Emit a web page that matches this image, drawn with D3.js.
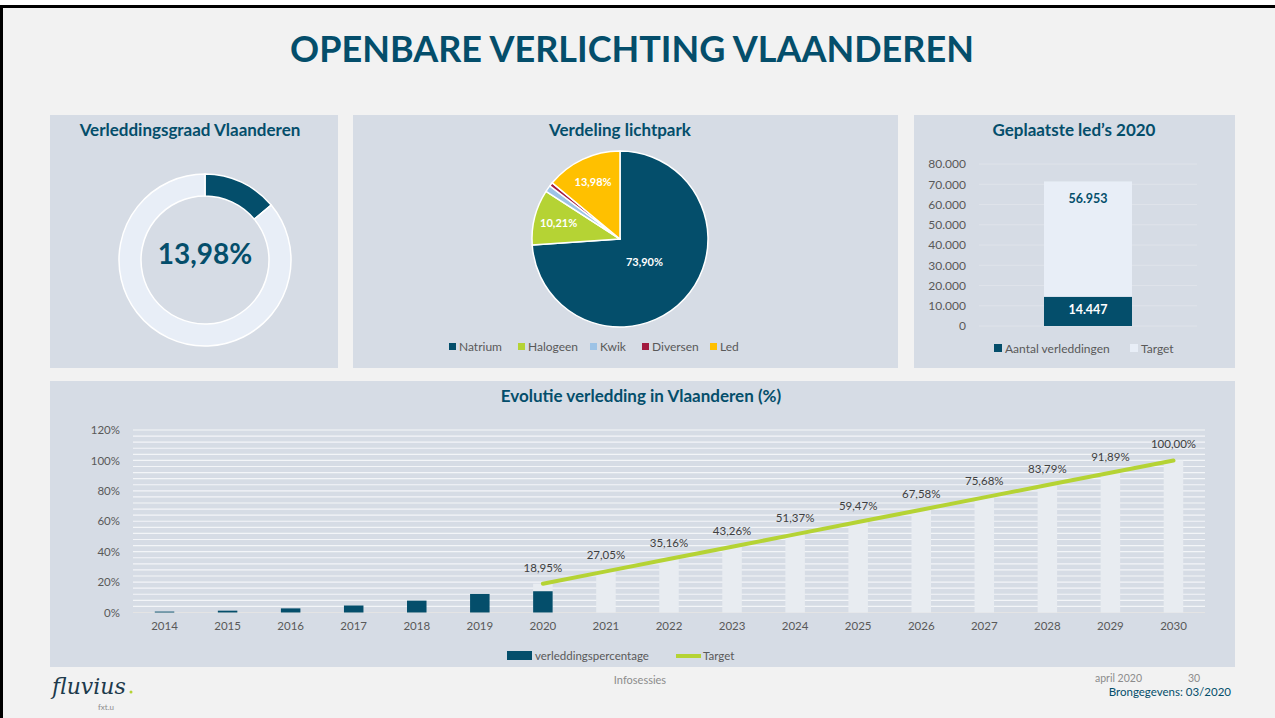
<!DOCTYPE html>
<html>
<head>
<meta charset="utf-8">
<script src="https://cdn.jsdelivr.net/npm/d3@7/dist/d3.min.js"></script>
<style>
  html, body { margin: 0; padding: 0; background: #ffffff; }
  svg { display: block; font-family: Lato, "Open Sans", sans-serif; }
</style>
</head>
<body>
<svg id="chart" width="1275" height="718"></svg>
<script>
// ---------- DATA ----------
const donutLabels = ["Verleddingsgraad", "Rest"];
const donutValues = [13.98, 86.02];

const pieCategories = ["Natrium", "Halogeen", "Kwik", "Diversen", "Led"];
const pieValues = [73.90, 10.21, 1.20, 0.71, 13.98];
const pieShownLabels = ["73,90%", "10,21%", "", "", "13,98%"];

const ledCategories = ["Aantal verleddingen", "Target"];
const ledValues = [14447, 56953];
const ledTicks = [0, 10000, 20000, 30000, 40000, 50000, 60000, 70000, 80000];
const ledTickLabels = ["0", "10.000", "20.000", "30.000", "40.000", "50.000", "60.000", "70.000", "80.000"];

const years = ["2014","2015","2016","2017","2018","2019","2020","2021","2022","2023","2024","2025","2026","2027","2028","2029","2030"];
const actualValues = [0.6, 1.2, 2.7, 4.6, 7.8, 12.2, 13.98, null, null, null, null, null, null, null, null, null, null];
const targetValues = [null, null, null, null, null, null, 18.95, 27.05, 35.16, 43.26, 51.37, 59.47, 67.58, 75.68, 83.79, 91.89, 100.00];
const targetLabels = ["", "", "", "", "", "", "18,95%", "27,05%", "35,16%", "43,26%", "51,37%", "59,47%", "67,58%", "75,68%", "83,79%", "91,89%", "100,00%"];
const pctTicks = [0, 20, 40, 60, 80, 100, 120];

// ---------- STYLE ----------
const TEAL = "#044e6b";
const PANEL = "#d6dce5";
const GREY = "#595959";
const pieColors = ["#044e6b", "#b5d334", "#9dc3e6", "#a31a3f", "#ffc000"];
const LIGHT = "#e8eef7";

const svg = d3.select("#chart");

// page background & frame
svg.append("rect").attr("x", 0).attr("y", 0).attr("width", 1275).attr("height", 718).attr("fill", "#ffffff");
svg.append("rect").attr("x", 0).attr("y", 6).attr("width", 1275).attr("height", 712).attr("fill", "#f2f2f2");
svg.append("line").attr("x1", 0).attr("x2", 1275).attr("y1", 6.5).attr("y2", 6.5).attr("stroke", "#000").attr("stroke-width", 3);
svg.append("line").attr("x1", 1.5).attr("x2", 1.5).attr("y1", 5).attr("y2", 718).attr("stroke", "#000").attr("stroke-width", 3);

// main title
svg.append("text").attr("x", 632).attr("y", 62).attr("text-anchor", "middle")
  .attr("font-size", 36).attr("font-weight", 700).attr("fill", TEAL)
  .text("OPENBARE VERLICHTING VLAANDEREN");

// panels
const panels = [
  {x: 50, y: 115, w: 288, h: 253, title: "Verleddingsgraad Vlaanderen", tx: 190},
  {x: 353, y: 115, w: 545, h: 253, title: "Verdeling lichtpark", tx: 620},
  {x: 914, y: 115, w: 321, h: 253, title: "Geplaatste led\u2019s 2020", tx: 1074},
  {x: 50, y: 381, w: 1185, h: 286, title: "Evolutie verledding in Vlaanderen (%)", tx: 641}
];
const panelG = svg.append("g");
panels.forEach(p => {
  panelG.append("rect").attr("x", p.x).attr("y", p.y).attr("width", p.w).attr("height", p.h).attr("fill", PANEL);
  panelG.append("text").attr("x", p.tx).attr("y", p.y + 20.5).attr("text-anchor", "middle")
    .attr("font-size", 17).attr("font-weight", 700).attr("fill", TEAL).text(p.title);
});

// ---------- DONUT ----------
{
  const g = svg.append("g").attr("transform", "translate(205,260)");
  const pie = d3.pie().sort(null)(donutValues);
  const arc = d3.arc().innerRadius(64).outerRadius(86);
  g.selectAll("path").data(pie).join("path")
    .attr("d", arc)
    .attr("fill", (d, i) => i === 0 ? TEAL : LIGHT)
    .attr("stroke", "#ffffff").attr("stroke-width", 1.5);
  g.append("text").attr("x", 0).attr("y", 4).attr("text-anchor", "middle")
    .attr("font-size", 28).attr("font-weight", 700).attr("fill", TEAL)
    .text(d3.format(".2f")(donutValues[0]).replace(".", ",") + "%");
}

// ---------- PIE ----------
{
  const cx = 620, cy = 239, r = 88;
  const g = svg.append("g").attr("transform", `translate(${cx},${cy})`);
  const pie = d3.pie().sort(null)(pieValues);
  const arc = d3.arc().innerRadius(0).outerRadius(r);
  g.selectAll("path").data(pie).join("path")
    .attr("d", arc)
    .attr("fill", (d, i) => pieColors[i])
    .attr("stroke", "#ffffff").attr("stroke-width", 1.5).attr("stroke-linejoin", "round");
  g.selectAll("text.lbl").data(pie).join("text").attr("class", "lbl")
    .attr("transform", (d) => {
      const frac = (d.endAngle - d.startAngle) > Math.PI ? 0.38 : 0.72;
      const a = d3.arc().innerRadius(r * frac).outerRadius(r * frac);
      const c = a.centroid(d);
      return `translate(${c[0]},${c[1] + 4})`;
    })
    .attr("text-anchor", "middle").attr("font-size", 11).attr("font-weight", 700).attr("fill", "#ffffff")
    .text((d, i) => pieShownLabels[i]);

  // legend
  const legX = [449, 518, 590, 642, 710];
  const lg = svg.append("g");
  pieCategories.forEach((c, i) => {
    lg.append("rect").attr("x", legX[i]).attr("y", 343).attr("width", 7).attr("height", 7).attr("fill", pieColors[i]);
    lg.append("text").attr("x", legX[i] + 10).attr("y", 351).attr("font-size", 12).attr("fill", GREY).text(c);
  });
}

// ---------- LED STACKED BAR ----------
{
  const y = d3.scaleLinear().domain([0, 80000]).range([326, 164]);
  const g = svg.append("g");
  // gridlines
  g.selectAll("line.grid").data(ledTicks).join("line").attr("class", "grid")
    .attr("x1", 979).attr("x2", 1197).attr("y1", d => y(d)).attr("y2", d => y(d))
    .attr("stroke", "#dfe3ea").attr("stroke-width", 1);
  // axis labels
  const ax = d3.axisLeft(y).tickValues(ledTicks).tickFormat((d, i) => ledTickLabels[i]).tickSize(0).tickPadding(0);
  const axg = g.append("g").attr("transform", "translate(966,0)").call(ax);
  axg.select(".domain").remove();
  axg.selectAll("text").attr("font-size", 12).attr("fill", GREY).attr("font-family", "Lato, 'Open Sans', sans-serif");
  // stacked bars
  const stack = d3.stack().keys([0, 1])([ledValues]);
  const barX = 1044, barW = 88;
  const colors = [TEAL, LIGHT];
  stack.forEach((s, i) => {
    const d = s[0];
    g.append("rect").attr("x", barX).attr("width", barW)
      .attr("y", y(d[1])).attr("height", y(d[0]) - y(d[1])).attr("fill", colors[i]);
  });
  g.append("text").attr("x", barX + barW / 2).attr("y", y(stack[0][0][1]) + 17).attr("text-anchor", "middle")
    .attr("font-size", 12.5).attr("font-weight", 700).attr("fill", "#ffffff").text(d3.format(",")(ledValues[0]).replace(/,/g, "."));
  g.append("text").attr("x", barX + barW / 2).attr("y", 203).attr("text-anchor", "middle")
    .attr("font-size", 12.5).attr("font-weight", 700).attr("fill", TEAL).text(d3.format(",")(ledValues[1]).replace(/,/g, "."));
  // legend
  const legX = [994, 1130];
  ledCategories.forEach((c, i) => {
    g.append("rect").attr("x", legX[i]).attr("y", 344).attr("width", 8).attr("height", 8).attr("fill", colors[i]);
    g.append("text").attr("x", legX[i] + 11).attr("y", 353).attr("font-size", 12).attr("fill", GREY).text(c);
  });
}

// ---------- EVOLUTION ----------
{
  const x = d3.scaleBand().domain(years).range([133, 1205]);
  const y = d3.scaleLinear().domain([0, 120]).range([612.5, 430]);
  const g = svg.append("g");
  const minor = d3.range(4, 121, 4);
  g.selectAll("line.grid").data(minor).join("line").attr("class", "grid")
    .attr("x1", 133).attr("x2", 1205).attr("y1", d => y(d)).attr("y2", d => y(d))
    .attr("stroke", "#f3f5f8").attr("stroke-width", 1.2);
  g.append("line").attr("x1", 133).attr("x2", 1205).attr("y1", y(0)).attr("y2", y(0))
    .attr("stroke", "#e4e4e4").attr("stroke-width", 1.2);

  const ax = d3.axisLeft(y).tickValues(pctTicks).tickFormat(d => d + "%").tickSize(0).tickPadding(0);
  const axg = g.append("g").attr("transform", "translate(120,0)").call(ax);
  axg.select(".domain").remove();
  axg.selectAll("text").attr("font-size", 11.5).attr("fill", GREY).attr("font-family", "Lato, 'Open Sans', sans-serif");

  const bx = d3.axisBottom(x).tickSize(0).tickPadding(0);
  const bxg = g.append("g").attr("transform", "translate(0,622)").call(bx);
  bxg.select(".domain").remove();
  bxg.selectAll("text").attr("font-size", 11.5).attr("fill", GREY).attr("font-family", "Lato, 'Open Sans', sans-serif");

  const bw = 19.5;
  const tData = years.map((yr, i) => ({yr, v: targetValues[i], l: targetLabels[i]})).filter(d => d.v !== null);
  const aData = years.map((yr, i) => ({yr, v: actualValues[i]})).filter(d => d.v !== null);

  g.selectAll("rect.tgt").data(tData).join("rect").attr("class", "tgt")
    .attr("x", d => x(d.yr) + x.bandwidth() / 2 - bw / 2).attr("width", bw)
    .attr("y", d => y(d.v)).attr("height", d => y(0) - y(d.v)).attr("fill", "#e8ecf1");
  g.selectAll("rect.act").data(aData).join("rect").attr("class", "act")
    .attr("x", d => x(d.yr) + x.bandwidth() / 2 - bw / 2).attr("width", bw)
    .attr("y", d => y(d.v)).attr("height", d => y(0) - y(d.v)).attr("fill", TEAL);

  const line = d3.line().x(d => x(d.yr) + x.bandwidth() / 2).y(d => y(d.v));
  g.append("path").datum(tData).attr("d", line).attr("fill", "none")
    .attr("stroke", "#b5d334").attr("stroke-width", 4).attr("stroke-linecap", "round");
  g.selectAll("text.tl").data(tData).join("text").attr("class", "tl")
    .attr("x", d => x(d.yr) + x.bandwidth() / 2).attr("y", d => y(d.v) - 12)
    .attr("text-anchor", "middle").attr("font-size", 11.5).attr("fill", "#404040").text(d => d.l);

  // legend
  g.append("rect").attr("x", 507).attr("y", 651).attr("width", 25).attr("height", 9).attr("fill", TEAL);
  g.append("text").attr("x", 535).attr("y", 660).attr("font-size", 11.5).attr("fill", GREY).text("verleddingspercentage");
  g.append("line").attr("x1", 676).attr("x2", 701).attr("y1", 656).attr("y2", 656).attr("stroke", "#b5d334").attr("stroke-width", 4);
  g.append("text").attr("x", 703).attr("y", 660).attr("font-size", 11.5).attr("fill", GREY).text("Target");
}

// ---------- FOOTER ----------
svg.append("text").attr("x", 640).attr("y", 684).attr("text-anchor", "middle").attr("font-size", 11).attr("fill", "#8c8c8c").text("Infosessies");
svg.append("text").attr("x", 1095).attr("y", 682).attr("font-size", 10.5).attr("fill", "#8c8c8c").text("april 2020");
svg.append("text").attr("x", 1188).attr("y", 682).attr("font-size", 10.5).attr("fill", "#8c8c8c").text("30");
svg.append("text").attr("x", 1231).attr("y", 696).attr("text-anchor", "end").attr("font-size", 11.5).attr("fill", TEAL).text("Brongegevens: 03/2020");
svg.append("text").attr("x", 52).attr("y", 694).attr("font-size", 22).attr("font-style", "italic").attr("font-family", "'DejaVu Serif', serif").attr("fill", "#1d3a4c").text("fluvius");
svg.append("circle").attr("cx", 131).attr("cy", 692).attr("r", 1.5).attr("fill", "#b5d334");
svg.append("text").attr("x", 98).attr("y", 710).attr("font-size", 8).attr("fill", "#8c8c8c").text("fxt.u");
</script>
</body>
</html>
